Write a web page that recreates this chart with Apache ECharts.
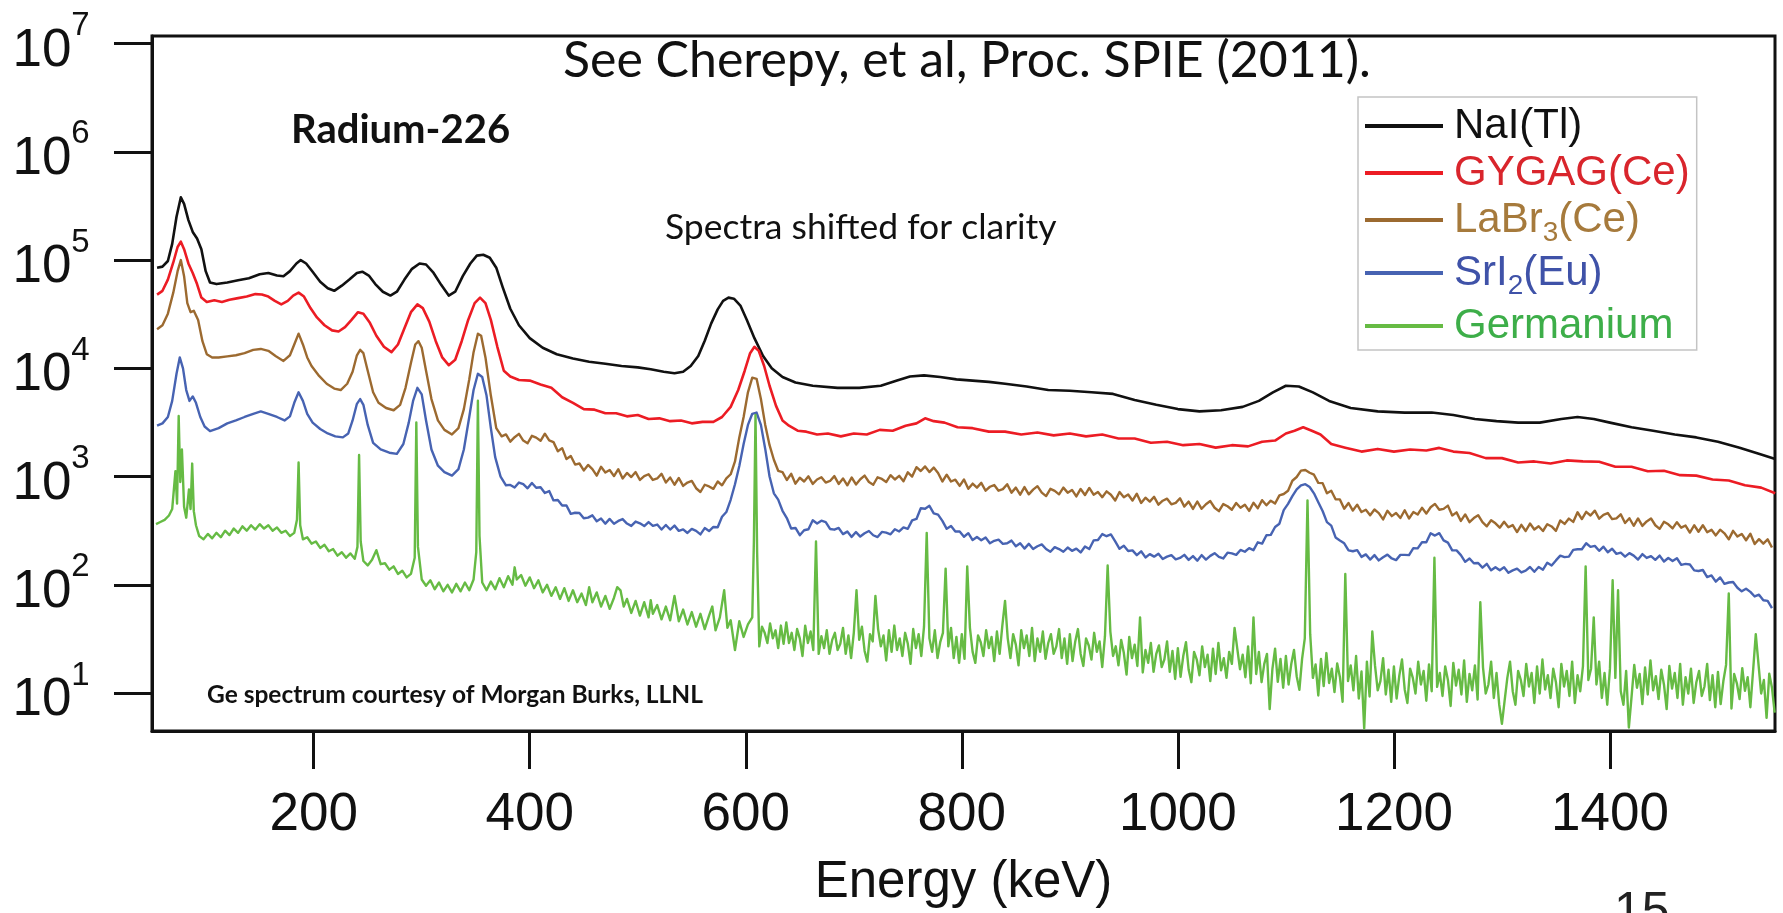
<!DOCTYPE html>
<html><head><meta charset="utf-8">
<script src="https://cdn.jsdelivr.net/npm/echarts@6/dist/echarts.min.js"></script>
<style>html,body{margin:0;padding:0;background:#fff}#c{width:1783px;height:913px}</style>
</head><body><div id="c"></div>
<script>
// ---- axis ticks ----
const yTickValues = [10, 100, 1000, 10000, 100000, 1000000, 10000000];
const xTickValues = [200, 400, 600, 800, 1000, 1200, 1400];
const seriesNames = ['NaI(Tl)', 'GYGAG(Ce)', 'LaBr3(Ce)', 'SrI2(Eu)', 'Germanium'];

// ---- spectra: [energy keV, counts] ----
const naiData = [[55,85000],[60,87000],[65,98000],[69,141000],[73,251000],[77,380000],[80,331000],[84,234000],[88,182000],[92,158000],[96,126000],[100,79000],[104,62000],[110,60000],[120,62000],[130,65000],[140,68000],[150,74000],[158,76000],[166,72000],[172,71000],[178,79000],[184,93000],[188,100000],[193,93000],[199,78000],[206,63000],[213,55000],[219,52000],[226,58000],[233,66000],[240,76000],[245,78000],[251,72000],[257,60000],[264,51000],[271,47000],[277,51000],[284,66000],[291,83000],[298,93000],[304,91000],[311,76000],[318,59000],[325,47000],[331,51000],[338,71000],[345,93000],[351,110000],[357,112000],[363,105000],[369,85000],[375,56000],[382,35500],[390,25000],[400,19000],[412,15500],[425,13500],[440,12300],[455,11500],[470,11000],[485,10500],[500,10200],[512,9800],[524,9300],[534,9000],[542,9300],[549,10500],[556,13000],[562,18000],[568,26000],[574,35000],[579,42000],[584,45000],[589,44000],[595,38000],[601,28000],[608,19000],[616,13000],[624,10000],[634,8300],[646,7400],[662,6900],[685,6600],[705,6600],[725,6900],[740,7700],[752,8400],[765,8600],[780,8300],[795,7900],[810,7700],[825,7500],[840,7200],[860,6800],[880,6300],[900,6200],[920,6000],[940,5800],[960,5100],[980,4600],[1000,4200],[1020,4000],[1040,4100],[1060,4400],[1075,5000],[1088,6000],[1100,6900],[1112,6800],[1125,6000],[1140,5000],[1160,4300],[1185,4000],[1210,3900],[1235,3900],[1255,3700],[1275,3400],[1295,3250],[1315,3150],[1335,3150],[1355,3400],[1370,3550],[1385,3400],[1400,3150],[1420,2850],[1440,2650],[1460,2450],[1480,2300],[1500,2100],[1520,1850],[1540,1600],[1553,1450]];

const gygagData = [[55,48000],[60,52000],[65,66000],[70,95000],[74,132000],[77,148000],[80,126000],[84,93000],[88,76000],[92,60000],[96,45000],[101,41000],[108,42500],[115,41000],[122,43000],[130,44500],[138,46000],[146,48500],[152,48000],[158,46000],[164,42000],[170,39000],[176,42000],[181,47000],[186,50000],[191,46000],[197,36000],[203,29500],[210,25000],[217,22400],[223,21900],[229,24000],[235,28000],[241,33000],[246,32000],[252,26300],[258,20000],[265,15800],[272,14100],[278,16600],[284,23400],[290,33000],[296,39000],[301,36000],[307,27000],[313,17800],[319,12600],[325,10700],[331,12000],[337,17800],[343,28000],[349,40000],[354,45000],[359,40000],[364,28000],[370,15800],[376,9500],[382,8400],[390,7800],[400,7700],[410,7100],[420,6600],[430,5400],[440,4800],[450,4200],[460,4150],[470,3850],[480,3850],[490,3600],[500,3700],[510,3400],[520,3450],[530,3250],[540,3300],[550,3100],[560,3200],[570,3200],[578,3550],[586,4400],[593,6300],[599,9500],[604,13800],[608,15800],[612,14500],[617,10500],[622,6900],[628,4500],[634,3300],[640,2950],[648,2650],[656,2600],[666,2450],[676,2500],[688,2350],[700,2500],[712,2450],[724,2700],[736,2650],[748,2950],[758,3100],[766,3450],[774,3250],[784,3150],[796,2850],[810,2800],[825,2600],[840,2600],[855,2450],[870,2550],[885,2400],[900,2500],[915,2350],[930,2450],[945,2250],[960,2250],[975,2050],[990,2100],[1005,1950],[1020,2000],[1035,1850],[1050,1950],[1065,1900],[1078,2100],[1090,2150],[1100,2500],[1108,2650],[1116,2850],[1124,2650],[1132,2450],[1142,2000],[1155,1850],[1170,1700],[1185,1800],[1200,1700],[1215,1780],[1230,1740],[1242,1840],[1255,1700],[1270,1650],[1285,1480],[1300,1480],[1315,1350],[1330,1380],[1345,1320],[1360,1410],[1375,1380],[1390,1370],[1405,1230],[1420,1230],[1435,1120],[1450,1130],[1465,1030],[1480,1020],[1495,940],[1510,920],[1525,830],[1540,790],[1553,700]];

const labr3LowData = [[55,23000],[60,25000],[65,32000],[70,50000],[74,79000],[77,100000],[80,71000],[83,40000],[86,33000],[89,34000],[93,28000],[97,17800],[101,13500],[106,12600],[112,12600],[120,12900],[128,13200],[136,13800],[144,14800],[151,15100],[158,14500],[165,12900],[172,11700],[178,13200],[182,16600],[186,20900],[190,16600],[194,12600],[198,10500],[205,8500],[212,7200],[219,6500],[225,6300],[231,7200],[236,9300],[240,13200],[243,14800],[246,13800],[250,9500],[255,6000],[260,4800],[267,4300],[274,4100],[280,4600],[285,6600],[290,11200],[294,16600],[297,17800],[300,15500],[304,9500],[309,5200],[315,3300],[321,2700],[328,2450],[334,2800],[339,4200],[344,7900],[348,14100],[352,20900],[355,20000],[359,12600],[364,5600],[369,2800],[374,2350]];
// channels from 378 keV every 4 keV
const labr3HighStart = 378, labr3HighStep = 4;
const labr3HighCounts = [2450,2100,2310,2480,2150,2030,2380,2290,2140,2490,
2160,2080,1710,1830,1450,1550,1290,1320,1140,1280,
1170,1020,1230,1090,1150,1010,1170,960,1080,990,
1100,930,1010,1050,930,960,1060,880,980,840,
970,820,880,910,780,720,840,810,770,900,
830,960,1050,1380,2300,3550,6000,8200,8000,5200,
3000,1950,1430,1130,1100,930,1060,860,975,900,
1005,855,940,985,880,910,1010,855,960,830,
980,845,945,1020,890,840,985,950,890,1030,
940,1015,905,1095,1000,1220,1125,1240,1100,1210,
1080,900,1040,900,935,820,940,770,860,790,
875,740,805,835,740,765,850,710,790,680,
800,685,758,815,710,660,770,737,685,790,
710,752,655,768,675,785,680,720,645,730,
680,600,720,643,682,600,695,570,638,587,
650,550,598,625,554,572,630,528,587,502,
588,504,555,594,515,479,557,532,494,570,
515,550,482,573,510,605,543,599,563,670,
690,740,915,990,1135,1150,1085,1040,875,870,
700,740,617,615,505,570,485,550,470,493,
439,496,460,402,483,431,461,414,488,410,
470,446,514,455,520,559,494,503,539,437,
467,389,447,379,414,440,379,347,395,370,
337,382,340,356,307,358,314,368,324,347,
314,363,346,315,393,365,409,381,468,405,
472,437,484,408,443,460,404,411,448,372,
412,351,410,350,385,410,355,329,382,362,
332,379,337,353,304,355,309,355,306,322,
286,323,299,263,315,279,295,258,296,238,
264,240,263,221];

const sri2LowData = [[55,2950],[60,3100],[65,3550],[69,5000],[73,8900],[76,12600],[79,10000],[82,6300],[85,5000],[88,5500],[91,4800],[95,3550],[99,2900],[104,2630],[112,2800],[120,3100],[128,3300],[136,3550],[144,3800],[151,4000],[158,3800],[166,3550],[173,3300],[178,3600],[182,4800],[186,6000],[190,5000],[194,3800],[199,3150],[206,2750],[213,2500],[220,2350],[227,2300],[232,2500],[236,3300],[240,4700],[243,5200],[246,4600],[250,3000],[255,2050],[262,1780],[270,1660],[277,1620],[283,2000],[288,3150],[292,5000],[296,6600],[300,5750],[304,3300],[309,1780],[315,1260],[321,1100],[328,1020],[334,1170],[339,1780],[344,3550],[348,6300],[352,8900],[356,8300],[360,5600],[364,2800],[368,1510],[373,1000],[378,830]];
// channels from 382 keV every 4 keV
const sri2HighStart = 382, sri2HighStep = 4;
const sri2HighCounts = [837,791,880,850,779,872,789,797,705,734,
602,607,540,541,452,463,461,412,417,438,
386,409,367,406,366,389,405,368,350,384,
370,349,380,350,360,324,357,324,352,315,
325,301,328,315,292,334,314,342,340,425,
470,610,850,1250,2000,3000,3800,3900,3000,1800,
1000,700,613,483,414,331,335,287,319,326,
394,369,391,380,328,323,335,294,310,277,
307,279,299,314,287,276,308,303,293,326,
311,339,329,394,406,509,504,536,457,445,
390,329,350,311,311,278,300,259,276,258,
273,242,255,261,239,242,256,227,242,216,
239,214,227,236,214,202,223,214,202,221,
206,216,199,226,214,257,259,294,281,292,
252,215,230,205,208,188,204,179,192,182,
194,173,182,188,172,177,189,170,184,167,
188,171,185,196,181,175,198,195,189,210,
202,218,209,247,240,287,289,342,367,490,
560,660,760,830,850,800,700,580,480,379,
352,274,257,242,208,204,209,181,191,171,
188,168,180,190,175,169,189,189,188,218,
217,247,247,299,285,300,257,245,208,208,
188,163,175,158,159,144,156,136,145,136,
145,129,136,141,130,135,146,132,146,138,
160,151,168,186,180,182,210,213,213,242,
224,229,206,225,200,215,193,198,182,196,
186,171,192,177,184,170,186,164,177,166,
176,153,156,154,136,134,137,118,122,107,
117,102,105,106,94,87,92,86,78,81,
72,71,61];

const geLowData = [[54,363],[58,380],[62,398],[66,437],[69,501],[72,1122],[73.5,562],[75,3630],[76.5,891],[78,1778],[80,525],[82,417],[84.5,759],[86,501],[87.5,1318],[89,479],[91,355],[94,282],[98,263],[102,295],[106,269],[110,302],[114,275],[118,316],[122,288],[126,331],[130,302],[134,347],[138,316],[142,355],[146,324],[150,363],[154,331],[158,355],[162,316],[166,339],[170,302],[174,316],[178,282],[182,302],[184.5,398],[186,1349],[187.5,355],[190,263],[194,275],[198,240],[202,251],[206,219],[210,234],[214,204],[218,214],[222,186],[226,200],[230,178],[234,195],[238,174],[240.5,224],[242,1585],[243.5,251],[246,166],[250,151],[254,170],[258,209],[262,155],[266,158],[270,138],[274,148],[278,126],[282,135],[286,117],[290,126],[293.5,178],[295,3162],[296.5,224],[300,112],[304,98],[308,110],[312,91],[316,105],[320,87],[324,100],[328,85],[332,102],[336,87],[340,105],[344,89],[348,112],[350.5,200],[352,5012],[353.5,282],[356,105],[360,89],[364,107],[368,91],[372,115],[376,95],[380,120],[384,100],[386,145],[388,112],[392,123],[396,98],[400,117],[404,93],[408,110],[412,85],[416,100],[420,79],[424,95],[428,74],[432,93],[436,71],[440,89],[444,69],[448,83],[452,65],[455,95],[458,69],[462,85],[466,63],[470,79],[474,60],[478,76],[481,95],[484,89],[487,63],[490,74],[494,55],[498,71],[502,52],[506,69],[510,50],[512,72],[514,54],[518,65],[522,48],[526,63],[530,47],[534,79],[538,46],[542,59],[546,43],[550,56],[554,41],[558,54],[562,39],[566,52],[569,63],[572,38],[576,50],[580,89],[583,40],[586,47],[590,25],[594,46],[598,33],[602,43],[606,50],[607.5,251],[609,3715],[610.5,200]];
// channels from 612.5 keV every 2.5 keV
const geHighStart = 612.5, geHighStep = 2.5;
const geHighCounts = [27,41,36,29,44,32,38,26,42,28.5,
45,29,36,25,39,32,22,42,29,37,
25,251,23,33.5,26,38,23,31,36,25,
28.5,40,23,34,21,36,89,31,41,24.5,
19.5,35,30,79,39,27,34,20,38,24,
42,25,32,22,36,28.5,18.6,39,26,35,
22,41,302,32,24,38,21,29.5,36,141,
27,40,21,33,19,35,20.7,148,40,24,
19,34,29.5,22,38,26,33,19.7,37,23,
42,71,32,21,35,28,18,38,26,34,
22,40,19.7,32,24,37,20.7,29,35,23,
27,39,21,32,18.6,35,19.7,30,39,23,
17.8,32,27.5,20.4,36,24,30,17.4,33.5,151,
37,22,27,18,31,23.4,14.8,33,21,28,
17.8,50,15.5,25,19,29,15.7,23,27.5,17.4,
20.4,30,15.7,24.5,13.5,26,14.1,22,29.5,16.4,
12.6,24,20.4,14.6,27,17.4,22.6,12.9,25.7,15,
29,16.2,21,13.8,24,18.6,40,25.7,16.6,22.6,
14,27,12.3,50,15,24,12.6,18.6,23,7.1,
16.6,25.7,12.7,20.7,11.2,22,12,18.6,25,14.3,
10.7,20.7,32,603,35,13.8,18.4,9.5,20.7,11.6,
23.4,12.4,16.8,10.2,18.8,14.1,8.3,126,12.9,18,
10.6,22,8.9,15.8,4.7,19.5,9.3,37,18,10.6,
12.9,21,9.7,16.4,8.3,17.6,8.9,14.5,20.4,10.8,
8.1,16.8,13.8,9.9,19.5,12,16,8.5,18.4,10.4,
178,11.4,15.3,9.4,17.6,13.2,7.6,19,11.7,16.4,
9.7,20,8.3,15,10.6,18,8.7,69,17.2,9.9,
12,19.5,9,15.3,7.8,5.2,8.5,13.8,19.5,10.4,
7.8,16,13.2,9.4,18.6,11.5,15.3,8.1,17.6,9.9,
20.4,10.8,14.6,9,16.8,12.6,7.4,18.6,11.5,16,
9.4,19.5,8.1,14.6,10.4,17.6,148,13.2,16.8,50,
12,19.5,9,15.3,7.8,16.8,110,13.8,89,10.4,
7.8,16,4.8,9.2,18.2,11.2,15,7.9,17.2,9.7,
20,10.6,14.3,8.8,16.4,12,7.1,17.8,11,15.3,
9,18.6,7.8,14,9.9,16.8,8.1,12.6,16,9.4,
11.5,18.6,8.6,14.6,7.4,15.7,7.9,12.9,18.2,83,
7.2,15,12.3,8.8,17,10.5,14,7.4,16,35,
18.6,9.9,13.2,5.9,15.1,11.2,6.6];

// channel grid -> [energy, counts]
function withChannels(low, start, step, counts) {
  return low.concat(counts.map(function (c, i) { return [start + i * step, c]; }));
}
const labr3Data = withChannels(labr3LowData, labr3HighStart, labr3HighStep, labr3HighCounts);
const sri2Data = withChannels(sri2LowData, sri2HighStart, sri2HighStep, sri2HighCounts);
const geData = withChannels(geLowData, geHighStart, geHighStep, geHighCounts);

const seriesColors = ['#111111', '#ec1c24', '#9c6a30', '#4763b2', '#66bb44'];
const seriesData = [naiData, gygagData, labr3Data, sri2Data, geData];
const seriesWidths = [2.6, 2.6, 2.4, 2.4, 2.4];

const SANS = '"Liberation Sans", Arial, sans-serif';
const CAL = 'Lato, "Open Sans", sans-serif';

const chart = echarts.init(document.getElementById('c'), null, {renderer: 'canvas'});

const legendRich = {
  k: {color: '#111111', fontSize: 42, lineHeight: 44, padding: [0, 0, 0, 6], fontFamily: SANS},
  r: {color: '#d9252c', fontSize: 42, lineHeight: 44, padding: [0, 0, 0, 6], fontFamily: SANS},
  b0: {color: '#a67a3c', fontSize: 42, lineHeight: 54, padding: [0, 0, 0, 6], fontFamily: SANS},
  b: {color: '#a67a3c', fontSize: 42, lineHeight: 54, fontFamily: SANS},
  bs: {color: '#a67a3c', fontSize: 28, lineHeight: 27, verticalAlign: 'bottom', fontFamily: SANS},
  u0: {color: '#3f52a8', fontSize: 42, lineHeight: 54, padding: [0, 0, 0, 6], fontFamily: SANS},
  u: {color: '#3f52a8', fontSize: 42, lineHeight: 54, fontFamily: SANS},
  us: {color: '#3f52a8', fontSize: 28, lineHeight: 27, verticalAlign: 'bottom', fontFamily: SANS},
  g: {color: '#3dae49', fontSize: 42, lineHeight: 44, padding: [0, 0, 0, 6], fontFamily: SANS}
};

const option = {
  animation: false,
  backgroundColor: '#ffffff',
  textStyle: {fontFamily: SANS},
  grid: {
    left: 152, top: 36, right: 8, bottom: 182,
    show: true, borderColor: '#111111', borderWidth: 3, backgroundColor: 'transparent',
    containLabel: false, outerBoundsMode: 'none'
  },
  xAxis: {
    type: 'value', min: 50.3, max: 1552.8,
    name: 'Energy (keV)', nameLocation: 'middle', nameGap: 126,
    nameTextStyle: {fontSize: 51, color: '#111111', fontFamily: SANS},
    axisLine: {show: true, onZero: false, lineStyle: {color: '#111111', width: 3}},
    axisTick: {show: true, inside: false, length: 38, customValues: xTickValues, lineStyle: {color: '#111111', width: 3}},
    axisLabel: {show: true, customValues: xTickValues, margin: 58, fontSize: 53, color: '#111111', fontFamily: SANS,
      formatter: function (v) { return String(v); }},
    splitLine: {show: false},
    minorTick: {show: false}
  },
  yAxis: {
    type: 'log', logBase: 10, min: 4.46, max: 11750000,
    axisLine: {show: true, lineStyle: {color: '#111111', width: 3}},
    axisTick: {show: true, inside: false, length: 38, customValues: yTickValues, lineStyle: {color: '#111111', width: 3}},
    axisLabel: {
      show: true, customValues: yTickValues, margin: 62, color: '#111111',
      formatter: function (v) { return '{m|10}{e|' + Math.round(Math.log10(v)) + '}{z| }'; },
      rich: {
        m: {fontSize: 53, lineHeight: 56, verticalAlign: 'bottom', fontFamily: SANS, color: '#111111'},
        e: {fontSize: 33, lineHeight: 24, verticalAlign: 'top', fontFamily: SANS, color: '#111111'},
        z: {fontSize: 1, lineHeight: 68, fontFamily: SANS, color: '#ffffff'}
      }
    },
    splitLine: {show: false},
    minorTick: {show: false}
  },
  legend: {
    show: true, orient: 'vertical', left: 1358, top: 97,
    padding: [8, 7, 3, 7], itemGap: 5, itemWidth: 78, itemHeight: 4, icon: 'rect',
    borderColor: '#c4c4c4', borderWidth: 1.5, backgroundColor: '#ffffff',
    selectedMode: false,
    data: seriesNames,
    textStyle: {fontSize: 42, fontFamily: SANS, rich: legendRich},
    formatter: function (name) {
      if (name === 'NaI(Tl)') return '{k|NaI(Tl)}';
      if (name === 'GYGAG(Ce)') return '{r|GYGAG(Ce)}';
      if (name === 'LaBr3(Ce)') return '{b0|LaBr}{bs|3}{b|(Ce)}';
      if (name === 'SrI2(Eu)') return '{u0|SrI}{us|2}{u|(Eu)}';
      return '{g|Germanium}';
    }
  },
  graphic: [
    {type: 'text', left: 563, top: 36, style: {text: 'See Cherepy, et al, Proc. SPIE (2011).', fontSize: 50, fontFamily: CAL, fill: '#111111'}},
    {type: 'text', left: 291, top: 110, style: {text: 'Radium-226', fontSize: 40, fontWeight: 'bold', fontFamily: CAL, fill: '#111111'}},
    {type: 'text', left: 665, top: 210, style: {text: 'Spectra shifted for clarity', fontSize: 35.5, fontFamily: CAL, fill: '#111111'}},
    {type: 'text', left: 207, top: 683, style: {text: 'Ge spectrum courtesy of Morgan Burks, LLNL', fontSize: 24.5, fontWeight: 'bold', fontFamily: CAL, fill: '#111111'}},
    {type: 'text', left: 1614, top: 888, style: {text: '15', fontSize: 50, fontFamily: SANS, fill: '#222222'}}
  ],
  series: seriesNames.map(function (n, i) {
    return {
      name: n, type: 'line', data: seriesData[i],
      showSymbol: false, symbol: 'none', smooth: false, sampling: null,
      clip: true, silent: true, z: 2 + i,
      color: seriesColors[i],
      lineStyle: {color: seriesColors[i], width: seriesWidths[i], join: 'round'}
    };
  })
};
chart.setOption(option);
</script>
</body></html>
